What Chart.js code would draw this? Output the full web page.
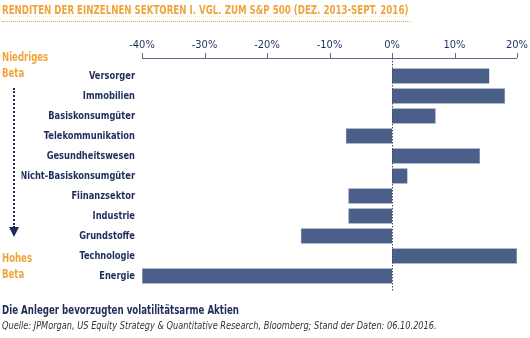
<!DOCTYPE html>
<html><head><meta charset="utf-8">
<script src="https://cdn.jsdelivr.net/npm/chart.js@4"></script>
<style>
html,body{margin:0;padding:0;background:#fff;}
#wrap{position:relative;width:530px;height:338px;overflow:hidden;font-family:"DejaVu Sans Condensed","DejaVu Sans",sans-serif;}
canvas{position:absolute;left:0;top:0;}
.t{position:absolute;white-space:nowrap;transform-origin:0 0;}
#title{left:2px;top:2px;font-size:13px;font-weight:bold;color:#f0a43a;transform:scaleX(0.74);}
#tline{position:absolute;left:2px;top:21px;width:408px;border-top:1.5px dotted #f0a43a;}
.beta{font-size:12.5px;font-weight:bold;color:#f0a43a;transform:scaleX(0.76);}
#arrow{position:absolute;left:13px;top:88px;height:140px;border-left:2px dotted #1e2d5c;}
#head{position:absolute;left:9px;top:227px;width:0;height:0;border-left:5px solid transparent;border-right:5px solid transparent;border-top:10px solid #1e2d5c;}
#foot1{left:2px;top:302px;font-size:12.5px;font-weight:bold;color:#1e2d5c;transform:scaleX(0.77);}
#foot2{left:2px;top:319px;font-size:10.5px;font-style:italic;color:#333;transform:scaleX(0.87);}
</style></head>
<body><div id="wrap">
<canvas id="c" width="530" height="338"></canvas>
<div class="t" id="title">RENDITEN DER EINZELNEN SEKTOREN I. VGL. ZUM S&amp;P 500 (DEZ. 2013-SEPT. 2016)</div>
<div id="tline"></div>
<div class="t beta" style="left:2px;top:49px;">Niedriges</div>
<div class="t beta" style="left:2px;top:65px;">Beta</div>
<div id="arrow"></div><div id="head"></div>
<div class="t beta" style="left:2px;top:250px;">Hohes</div>
<div class="t beta" style="left:2px;top:266px;">Beta</div>
<div class="t" id="foot1">Die Anleger bevorzugten volatilitätsarme Aktien</div>
<div class="t" id="foot2">Quelle: JPMorgan, US Equity Strategy &amp; Quantitative Research, Bloomberg; Stand der Daten: 06.10.2016.</div>
</div>
<script>
const categories = ["Versorger","Immobilien","Basiskonsumgüter","Telekommunikation","Gesundheitswesen","Nicht-Basiskonsumgüter","Fiinanzsektor","Industrie","Grundstoffe","Technologie","Energie"];
const values = [15.6, 18.1, 7.0, -7.4, 14.1, 2.5, -7.0, -7.0, -14.6, 20.0, -40.0];
const tickValues = [-40,-30,-20,-10,0,10,20];

const FONT = "'DejaVu Sans Condensed','DejaVu Sans',sans-serif";
const NAVY = "#1e2d5c";

const axisPlugin = {
  id:'axisPlugin',
  afterDatasetsDraw(chart){
    const {ctx, chartArea, scales:{x}} = chart;
    const ay = chartArea.top - 8;
    ctx.save();
    ctx.strokeStyle = "#5a6d90";
    ctx.lineWidth = 1;
    ctx.beginPath();
    ctx.moveTo(x.getPixelForValue(-40), ay+0.5);
    ctx.lineTo(x.getPixelForValue(20), ay+0.5);
    ctx.stroke();
    tickValues.forEach(v=>{
      const px = Math.round(x.getPixelForValue(v))+0.5;
      ctx.beginPath(); ctx.moveTo(px, ay-5); ctx.lineTo(px, ay); ctx.stroke();
    });
    const zx = Math.round(x.getPixelForValue(0))+0.5;
    ctx.strokeStyle = "#3d4f78";
    ctx.setLineDash([1.5,1.5]);
    ctx.beginPath(); ctx.moveTo(zx, ay); ctx.lineTo(zx, chartArea.bottom+6); ctx.stroke();
    ctx.restore();
  }
};

new Chart(document.getElementById('c'), {
  type:'bar',
  data:{labels:categories, datasets:[{data:values, backgroundColor:"#4b6089", borderColor:"#6f81a3", borderWidth:0.5, barPercentage:0.78, categoryPercentage:1}]},
  plugins:[axisPlugin],
  options:{
    indexAxis:'y', responsive:false, animation:false,
    layout:{padding:{left:0,right:13,top:0,bottom:52}},
    plugins:{legend:{display:false}, tooltip:{enabled:false}},
    scales:{
      x:{position:'top', min:-40, max:20,
        afterFit(s){ s.height = 66; s.paddingLeft = 0; s.paddingRight = 0; },
        afterBuildTicks(s){ s.ticks = tickValues.map(v=>({value:v})); },
        grid:{display:false, drawTicks:true, tickLength:8},
        border:{display:false},
        ticks:{padding:6, color:NAVY, font:{family:FONT, size:11, weight:'normal'}, callback:v=>v+"%"}
      },
      y:{
        afterFit(s){
          s.width = 142;
          if (!s._condensed) {
            s._condensed = true;
            const orig = s.drawLabels;
            s.drawLabels = function(area){
              const ctx = this.ctx, rx = this.right - 7;
              ctx.save();
              ctx.translate(rx,0); ctx.scale(0.84,1); ctx.translate(-rx,0);
              orig.call(this, area);
              ctx.restore();
            };
          }
        },
        grid:{display:false, drawTicks:false},
        border:{display:false},
        ticks:{padding:7, color:NAVY, font:{family:FONT, size:11, weight:'bold'}}
      }
    }
  }
});
</script>
</body></html>
